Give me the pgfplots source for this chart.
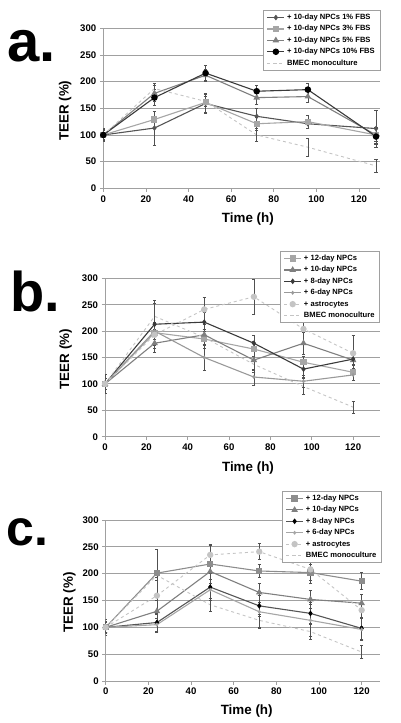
\documentclass[border=0pt]{standalone}
\usepackage{fontspec}
\setmainfont{Liberation Sans}
\usepackage{pgfplots}
\pgfplotsset{compat=1.18}

\definecolor{gA}{HTML}{555555}
\definecolor{gB}{HTML}{A6A6A6}
\definecolor{gC}{HTML}{7F7F7F}
\definecolor{gD}{HTML}{3A3A3A}
\definecolor{gE}{HTML}{C4C4C4}
\definecolor{gridc}{HTML}{A0A0A0}
\definecolor{ebc}{HTML}{505050}

\pgfplotsset{
 teer/.style={
  scale only axis, xmin=0, ymin=0, ymax=300,
  axis x line=bottom, axis y line=left,
  axis line style={-, draw=gridc, line width=0.8pt},
  xtick={0,20,...,120}, ytick={0,50,...,300},
  ymajorgrids, major grid style={draw=gridc, line width=0.9pt},
  tick align=outside, major tick length=3.5pt,
  tick style={draw=gridc, line width=0.8pt},
  ticklabel style={font=\fontsize{9.6}{10}\selectfont\bfseries},
  /pgf/number format/assume math mode=true,
  label style={font=\fontsize{13.4}{14}\selectfont\bfseries},
  xlabel={Time (h)}, ylabel={TEER (\%)},
  legend cell align=left,
  legend style={draw=gridc, line width=0.6pt, fill=white,
    font=\fontsize{7.6}{8}\selectfont\bfseries,
    nodes={text height=5.5pt, text depth=1.5pt, inner sep=2.2pt},
    row sep=0pt, inner xsep=3pt, inner ysep=1.5pt},
 },
 eb/.style={error bars/.cd, y dir=both, y explicit,
   error bar style={draw=ebc, line width=0.55pt, solid},
   error mark options={rotate=90, mark size=1.6pt, draw=ebc, line width=0.55pt, solid}},
}

\begin{document}
\begin{tikzpicture}
\path[use as bounding box] (0pt,0pt) rectangle (400pt,723pt);

\node[anchor=base west, font=\fontsize{58}{58}\selectfont\bfseries, inner sep=0] at (7pt,661pt) {a.};
\node[anchor=base west, font=\fontsize{56}{56}\selectfont\bfseries, inner sep=0] at (10pt,411.3pt) {b.};
\node[anchor=base west, font=\fontsize{50}{50}\selectfont\bfseries, inner sep=0] at (6pt,177pt) {c.};

% ---------- panel a ----------
\begin{axis}[teer, at={(103.3pt,534.7pt)}, anchor=south west,
  width=277pt, height=160pt, xmax=130,
  xlabel style={at={(axis description cs:0.522,-0.215)}, anchor=base},
  ylabel style={at={(axis description cs:-0.125,0.485)}, anchor=base},
  legend style={at={(1,1.114)}, anchor=north east}]
\addplot[color=gA, line width=1.1pt, mark=diamond*, mark size=2pt, eb] coordinates {
 (0,100) +- (0,12) (24,113) +- (0,32) (48,159) +- (0,18) (72,135) +- (0,15) (96,121) +- (0,8) (128,112) +- (0,35)};
\addlegendentry{+ 10-day NPCs 1\% FBS}
\addplot[color=gB, line width=1.1pt, mark=square*, mark size=2.5pt, eb] coordinates {
 (0,100) +- (0,10) (24,129) +- (0,15) (48,161) +- (0,18) (72,121) +- (0,12) (96,125) +- (0,12) (128,100) +- (0,12)};
\addlegendentry{+ 10-day NPCs 3\% FBS}
\addplot[color=gC, line width=1.1pt, mark=triangle*, mark size=2.7pt, eb] coordinates {
 (0,100) +- (0,10) (24,178) +- (0,15) (48,212) +- (0,12) (72,170) +- (0,12) (96,172) +- (0,10) (128,100) +- (0,15)};
\addlegendentry{+ 10-day NPCs 5\% FBS}
\addplot[color=gD, line width=1.1pt, mark=*, mark size=2.7pt, mark options={fill=black, draw=black}, eb] coordinates {
 (0,100) +- (0,12) (24,170) +- (0,15) (48,216) +- (0,14) (72,182) +- (0,12) (96,185) +- (0,12) (128,97) +- (0,15)};
\addlegendentry{+ 10-day NPCs 10\% FBS}
\addplot[color=gE, line width=0.9pt, dashed, eb] coordinates {
 (0,100) +- (0,8) (24,187) +- (0,10) (48,163) +- (0,10) (72,100) +- (0,12) (96,77) +- (0,17) (128,42) +- (0,12)};
\addlegendentry{BMEC monoculture}
\end{axis}

% ---------- panel b ----------
\begin{axis}[teer, at={(105pt,286.3pt)}, anchor=south west,
  width=275pt, height=158.4pt, xmax=133,
  xlabel style={at={(axis description cs:0.52,-0.221)}, anchor=base},
  ylabel style={at={(axis description cs:-0.13,0.49)}, anchor=base},
  legend style={at={(1,1.172)}, anchor=north east}]
\addplot[color=gB, line width=1.1pt, mark=square*, mark size=2.6pt, eb] coordinates {
 (0,100) +- (0,10) (24,197) +- (0,20) (48,185) +- (0,18) (72,166) +- (0,14) (96,141) +- (0,12) (120,122) +- (0,15)};
\addlegendentry{+ 12-day NPCs}
\addplot[color=gC, line width=1.1pt, mark=triangle*, mark size=2.7pt, eb] coordinates {
 (0,100) +- (0,10) (24,177) +- (0,18) (48,193) +- (0,20) (72,145) +- (0,20) (96,177) +- (0,20) (120,145) +- (0,15)};
\addlegendentry{+ 10-day NPCs}
\addplot[color=gD, line width=1.1pt, mark=diamond*, mark size=2pt, eb] coordinates {
 (0,100) +- (0,18) (24,213) +- (0,45) (48,217) +- (0,18) (72,177) +- (0,16) (96,128) +- (0,15) (120,147) +- (0,12)};
\addlegendentry{+ 8-day NPCs}
\addplot[color=gC!80!white, line width=1.1pt, mark=diamond*, mark size=1.2pt, eb] coordinates {
 (0,100) +- (0,10) (24,200) +- (0,15) (48,150) +- (0,25) (72,113) +- (0,15) (96,105) +- (0,12) (120,117) +- (0,10)};
\addlegendentry{+ 6-day NPCs}
\addplot[color=gE, line width=0.9pt, dashed, mark=*, mark size=2.7pt, mark options={solid}, eb] coordinates {
 (0,100) +- (0,10) (24,193) +- (0,20) (48,241) +- (0,23) (72,265) +- (0,33) (96,204) +- (0,28) (120,158) +- (0,35)};
\addlegendentry{+ astrocytes}
\addplot[color=gE, line width=0.9pt, dashed, eb] coordinates {
 (0,100) +- (0,10) (24,228) +- (0,25) (48,188) +- (0,15) (72,137) +- (0,15) (96,95) +- (0,15) (120,56) +- (0,12)};
\addlegendentry{BMEC monoculture}
\end{axis}

% ---------- panel c ----------
\begin{axis}[teer, at={(105.7pt,42pt)}, anchor=south west,
  width=274.3pt, height=161pt, xmax=128.6,
  xlabel style={at={(axis description cs:0.514,-0.211)}, anchor=base},
  ylabel style={at={(axis description cs:-0.12,0.488)}, anchor=base},
  legend style={at={(1.007,1.18)}, anchor=north east}]
\addplot[color=gB!85!black, line width=1.1pt, mark=square*, mark size=2.6pt, eb] coordinates {
 (0,100) +- (0,12) (24,201) +- (0,44) (49,218) +- (0,35) (72,205) +- (0,12) (96,202) +- (0,15) (120,186) +- (0,16)};
\addlegendentry{+ 12-day NPCs}
\addplot[color=gC, line width=1.1pt, mark=triangle*, mark size=2.7pt, eb] coordinates {
 (0,100) +- (0,10) (24,130) +- (0,20) (49,204) +- (0,30) (72,165) +- (0,18) (96,152) +- (0,17) (120,145) +- (0,17)};
\addlegendentry{+ 10-day NPCs}
\addplot[color=gA, line width=1.1pt, mark=diamond*, mark size=2pt, mark options={fill=black, draw=black}, eb] coordinates {
 (0,100) +- (0,15) (24,109) +- (0,18) (49,175) +- (0,25) (72,140) +- (0,20) (96,126) +- (0,20) (120,98) +- (0,20)};
\addlegendentry{+ 8-day NPCs}
\addplot[color=gB, line width=1.1pt, mark=diamond*, mark size=1.2pt, eb] coordinates {
 (0,100) +- (0,10) (24,105) +- (0,12) (49,170) +- (0,20) (72,129) +- (0,30) (96,113) +- (0,30) (120,96) +- (0,20)};
\addlegendentry{+ 6-day NPCs}
\addplot[color=gE, line width=0.9pt, dashed, mark=*, mark size=2.7pt, mark options={solid}, eb] coordinates {
 (0,100) +- (0,10) (24,159) +- (0,35) (49,235) +- (0,20) (72,241) +- (0,15) (96,208) +- (0,25) (120,132) +- (0,30)};
\addlegendentry{+ astrocytes}
\addplot[color=gE, line width=0.9pt, dashed, eb] coordinates {
 (0,100) +- (0,10) (24,197) +- (0,10) (49,142) +- (0,12) (72,113) +- (0,12) (96,92) +- (0,15) (120,54) +- (0,12)};
\addlegendentry{BMEC monoculture}
\end{axis}
\end{tikzpicture}
\end{document}
